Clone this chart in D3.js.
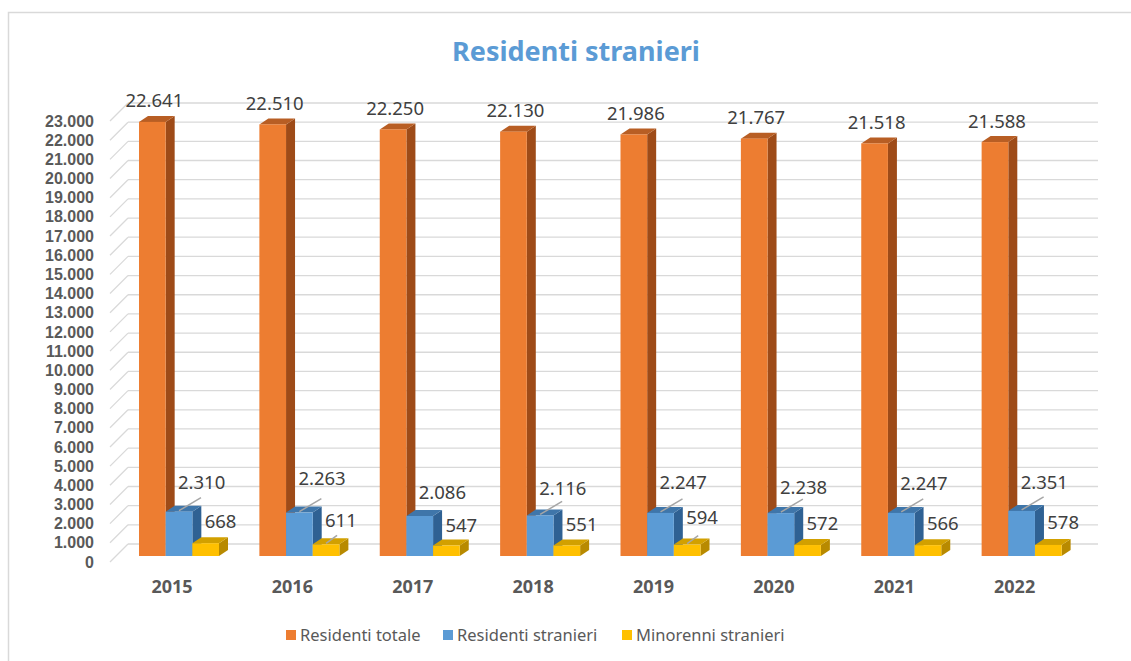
<!DOCTYPE html>
<html>
<head>
<meta charset="utf-8">
<script src="https://cdn.jsdelivr.net/npm/d3@7"></script>
<style>
  body { margin: 0; background: #fff; }
  text { font-family: "Noto Sans", "Liberation Sans", sans-serif; }
</style>
</head>
<body>
<div id="chart"></div>
<script>
const years = ["2015", "2016", "2017", "2018", "2019", "2020", "2021", "2022"];
const series = ["Residenti totale", "Residenti stranieri", "Minorenni stranieri"];
const totale = [22641, 22510, 22250, 22130, 21986, 21767, 21518, 21588];
const stranieri = [2310, 2263, 2086, 2116, 2247, 2238, 2247, 2351];
const minorenni = [668, 611, 547, 551, 594, 572, 566, 578];
const yTicks = d3.range(0, 23001, 1000);

// manual label lifts (as dragged in the original), in px
const stranieriLift = [29, 34, 23, 27, 30, 26, 29, 28];
const minorenniLift = [22, 24, 20, 21, 27, 22, 22, 22];

const width = 1131, height = 661;
const fmt = d3.formatLocale({ decimal: ",", thousands: ".", grouping: [3] }).format(",d");

const colors = {
  "Residenti totale": { front: "#ed7d31", side: "#9e4b18", top: "#b85e24" },
  "Residenti stranieri": { front: "#5b9bd5", side: "#2f6193", top: "#3f76aa" },
  "Minorenni stranieri": { front: "#ffc000", side: "#b88a00", top: "#d2a000" }
};

const svg = d3.select("#chart").append("svg")
  .attr("width", width)
  .attr("height", height);

svg.append("rect")
  .attr("x", 8.5).attr("y", 12.5)
  .attr("width", width + 20).attr("height", height + 20)
  .attr("fill", "none").attr("stroke", "#d9d9d9").attr("stroke-width", 1.5);

// front axis scale; back wall and bar plane are offsets of it
const y = d3.scaleLinear().domain([0, 23000]).range([562, 121]);
const back = { dx: 18, dy: -18 };
const barPlaneDy = -6;
const axisX = 110;
const wallRight = 1098;

const x = d3.scaleBand().domain(years).range([119, 1082]);
const xs = d3.scaleBand().domain(series).range([0, 80]);
const depth = { dx: 9, dy: 6 };

// gridlines
const grid = svg.append("g").attr("stroke", "#d9d9d9").attr("stroke-width", 1.3).attr("fill", "none");
grid.selectAll("line.h")
  .data(yTicks)
  .join("line")
  .attr("class", "h")
  .attr("x1", axisX + back.dx).attr("x2", wallRight)
  .attr("y1", d => y(d) + back.dy).attr("y2", d => y(d) + back.dy);
grid.selectAll("line.d")
  .data(yTicks)
  .join("line")
  .attr("class", "d")
  .attr("x1", axisX).attr("x2", axisX + back.dx)
  .attr("y1", d => y(d)).attr("y2", d => y(d) + back.dy);

// y labels
svg.selectAll("text.ytick")
  .data(yTicks)
  .join("text")
  .attr("class", "ytick")
  .attr("x", 94)
  .attr("y", d => y(d))
  .attr("dy", "0.35em")
  .attr("text-anchor", "end")
  .style("font-family", "'Liberation Sans', Arial, sans-serif")
  .style("font-size", "16px")
  .style("font-weight", "bold")
  .style("fill", "#595959")
  .text(d => fmt(d));

// bars
const rows = [];
years.forEach((yr, i) => {
  rows.push({ year: yr, s: series[0], v: totale[i], i });
  rows.push({ year: yr, s: series[1], v: stranieri[i], i });
  rows.push({ year: yr, s: series[2], v: minorenni[i], i });
});

const base = y(0) + barPlaneDy;
const bw = xs.bandwidth();
const bx = d => x(d.year) + 20 + xs(d.s);
const by = d => y(d.v) + barPlaneDy;

const bars = svg.append("g").selectAll("g.bar")
  .data(rows)
  .join("g")
  .attr("class", "bar");

bars.append("polygon")
  .attr("points", d => {
    const x0 = bx(d) + bw, t = by(d);
    return [[x0, t], [x0 + depth.dx, t - depth.dy], [x0 + depth.dx, base - depth.dy], [x0, base]].join(" ");
  })
  .attr("fill", d => colors[d.s].side);
bars.append("polygon")
  .attr("points", d => {
    const x0 = bx(d), t = by(d);
    return [[x0, t], [x0 + depth.dx, t - depth.dy], [x0 + bw + depth.dx, t - depth.dy], [x0 + bw, t]].join(" ");
  })
  .attr("fill", d => colors[d.s].top);
bars.append("rect")
  .attr("x", d => bx(d))
  .attr("y", d => by(d))
  .attr("width", bw)
  .attr("height", d => base - by(d))
  .attr("fill", d => colors[d.s].front);

// data labels
const labelStyle = sel => sel
  .style("font-size", "18.5px")
  .style("fill", "#404040");

const lifts = { "Residenti totale": null, "Residenti stranieri": stranieriLift, "Minorenni stranieri": minorenniLift };

const leaders = svg.append("g").attr("stroke", "#a6a6a6").attr("stroke-width", 1.5);
rows.filter(d => d.s !== series[0]).forEach(d => {
  const lift = lifts[d.s][d.i];
  const cx = bx(d) + bw / 2;
  const thr = d.s === series[1] ? 25 : 23;
  if (lift >= thr) {
    leaders.append("line")
      .attr("x1", cx).attr("y1", by(d) - 1)
      .attr("x2", cx + (d.s === series[1] ? 22 : 11)).attr("y2", by(d) - (d.s === series[1] ? 14 : 9));
  }
});

svg.selectAll("text.lab")
  .data(rows)
  .join("text")
  .attr("class", "lab")
  .attr("x", d => d.s === series[0] ? bx(d) + bw / 2 + 2 : bx(d) + bw / 2 - 1)
  .attr("y", d => d.s === series[0] ? by(d) - 21 : by(d) - lifts[d.s][d.i])
  .attr("dy", "0.35em")
  .attr("text-anchor", d => d.s === series[0] ? "middle" : "start")
  .call(labelStyle)
  .text(d => fmt(d.v));

// year labels
svg.selectAll("text.year")
  .data(years)
  .join("text")
  .attr("class", "year")
  .attr("x", d => x(d) + 53)
  .attr("y", 587)
  .attr("dy", "0.35em")
  .attr("text-anchor", "middle")
  .style("font-size", "18px")
  .style("font-weight", "bold")
  .style("fill", "#595959")
  .text(d => d);

// title
svg.append("text")
  .attr("x", 576)
  .attr("y", 52)
  .attr("dy", "0.35em")
  .attr("text-anchor", "middle")
  .style("font-size", "27px")
  .style("font-weight", "bold")
  .style("fill", "#5b9bd5")
  .text("Residenti stranieri");

// legend
const legendX = [286, 443, 622];
const legend = svg.selectAll("g.legend")
  .data(series)
  .join("g")
  .attr("class", "legend")
  .attr("transform", (d, i) => `translate(${legendX[i]}, 635)`);
legend.append("rect")
  .attr("x", 0).attr("y", -5)
  .attr("width", 10).attr("height", 10)
  .attr("fill", d => colors[d].front);
legend.append("text")
  .attr("x", 14)
  .attr("dy", "0.35em")
  .style("font-size", "16.5px")
  .style("fill", "#595959")
  .text(d => d);
</script>
</body>
</html>
